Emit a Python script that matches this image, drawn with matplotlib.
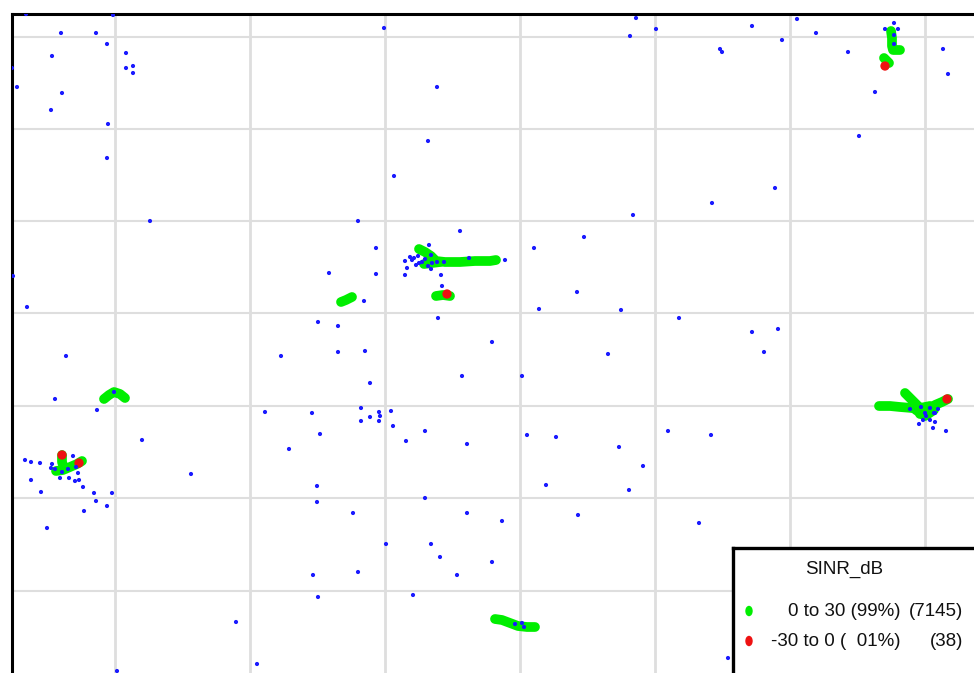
import matplotlib
matplotlib.use('agg')
import matplotlib.pyplot as plt
from matplotlib.patches import Ellipse

# map coordinates (screen-like units, y grows downward)
GRID_X = [115, 250, 385, 520, 655, 790, 925]
GRID_Y = [37, 129, 221, 313, 406, 498, 591]

# serving sites (blue dots)
site_x = [26, 113, 61, 96, 107, 52, 126, 12, 126, 133, 133, 17, 62, 51, 108, 107, 150, 13, 27,
          384, 437, 428, 394, 358, 460, 376, 329, 376, 405, 441, 442, 364, 469, 429,
          405, 410, 412, 414, 418, 416, 419, 422, 425, 431, 428, 432, 437, 444, 431, 407,
          318, 338, 438,
          636, 656, 630, 752, 797, 816, 782, 720, 722, 848, 894, 885, 898, 894, 894, 943, 948,
          875, 859, 775, 712, 633, 584, 534, 505, 577, 539, 621, 679, 752, 778,
          66, 55, 97, 142, 25, 31, 40, 52, 73, 51, 55, 62, 68, 76, 78, 60, 69, 75, 79, 31,
          83, 41, 94, 112, 96, 107, 84, 47, 191, 114,
          281, 338, 365, 370, 462, 265, 312, 361, 370, 379, 380, 391, 361, 379, 393, 425,
          406, 467, 320, 289, 317, 317, 353, 425, 467, 386, 431, 440, 313, 358, 457, 318,
          413, 236, 257, 117,
          492, 608, 764, 522, 527, 556, 619, 643, 546, 629, 668, 711, 502, 578, 699, 492, 728,
          910, 921, 930, 938, 925, 934, 926, 935, 923, 930, 935, 919, 933, 946,
          515, 522, 524]
site_y = [14, 15, 33, 33, 44, 56, 53, 68, 68, 66, 73, 87, 93, 110, 124, 158, 221, 276, 307,
          28, 87, 141, 176, 221, 231, 248, 273, 274, 275, 275, 286, 301, 258, 245,
          261, 257, 260, 258, 256, 265, 263, 262, 259, 255, 266, 263, 262, 262, 269, 268,
          322, 326, 318,
          18, 29, 36, 26, 19, 33, 40, 49, 52, 52, 23, 29, 29, 35, 44, 49, 74,
          92, 136, 188, 203, 215, 237, 248, 260, 292, 309, 310, 318, 332, 329,
          356, 399, 410, 440, 460, 462, 463, 464, 456, 468, 469, 472, 469, 467, 473, 478, 478, 481, 480, 480,
          487, 492, 493, 493, 501, 506, 511, 528, 474, 392,
          356, 352, 351, 383, 376, 412, 413, 408, 417, 412, 416, 411, 421, 421, 426, 431,
          441, 444, 434, 449, 486, 502, 513, 498, 513, 544, 544, 557, 575, 572, 575, 597,
          595, 622, 664, 671,
          342, 354, 352, 376, 435, 437, 447, 466, 485, 490, 431, 435, 521, 515, 523, 562, 658,
          409, 407, 408, 409, 413, 413, 416, 413, 420, 420, 422, 424, 428, 431,
          624, 623, 627]

# drive test routes, SINR 0 to 30 dB (green)
route_center_x = [419, 425, 431, 436, 445, 460, 475, 490, 496]
route_center_y = [249, 252, 256, 261, 262, 262, 261, 261, 260]
route_branch_x = [424, 432, 440]
route_branch_y = [264, 263, 262]
route_west_x = [341, 346, 352]
route_west_y = [302, 300, 297]
route_south_x = [436, 443, 450]
route_south_y = [296, 295, 296]
route_arc_x = [104, 109, 114, 120, 125]
route_arc_y = [399, 395, 392, 394, 398]
route_sw1_x = [62, 62, 64]
route_sw1_y = [455, 462, 468]
route_sw2_x = [56, 63, 70, 77, 82]
route_sw2_y = [471, 470, 467, 464, 461]
route_bottom_x = [495, 502, 510, 518, 527, 535]
route_bottom_y = [619, 620, 623, 626, 627, 627]
route_e1_x = [879, 890, 900, 912, 920]
route_e1_y = [406, 406, 407, 408, 410]
route_e2_x = [905, 912, 918, 924]
route_e2_y = [393, 400, 406, 412]
route_e3_x = [920, 928, 935, 942, 948]
route_e3_y = [414, 410, 405, 402, 399]
route_e4_x = [916, 925, 934, 930, 920]
route_e4_y = [410, 416, 410, 406, 408]
route_ne1_x = [891, 892, 892, 893, 900]
route_ne1_y = [31, 38, 46, 50, 50]
route_ne2_x = [884, 887, 889]
route_ne2_y = [58, 61, 63]

# SINR -30 to 0 dB samples (red)
bad_x = [447, 62, 79, 947, 885]
bad_y = [294, 455, 463, 399, 66]

legend_labels = ["0 to 30 (99%)", "-30 to 0 (  01%)"]
legend_counts = ["(7145)", "(38)"]
legend_colors = ["#00ee00", "#ee1111"]

W, H = 974, 673
fig = plt.figure(figsize=(W / 100, H / 100), dpi=100)
ax = fig.add_axes([12 / W, 0, (W - 12) / W, (H - 14) / H])
ax.set_xlim(12, W)
ax.set_ylim(H, 14)
ax.set_xticks([])
ax.set_yticks([])
for x in GRID_X:
    ax.axvline(x, color='#dedede', lw=2.0, zorder=0)
for y in GRID_Y:
    ax.axhline(y, color='#dedede', lw=1.5, zorder=0)
ax.spines['right'].set_visible(False)
ax.spines['bottom'].set_visible(False)
ax.spines['left'].set_linewidth(2.2)
ax.spines['top'].set_linewidth(2.2)

routes = [
    (route_center_x, route_center_y), (route_branch_x, route_branch_y),
    (route_west_x, route_west_y), (route_south_x, route_south_y),
    (route_arc_x, route_arc_y), (route_sw1_x, route_sw1_y), (route_sw2_x, route_sw2_y),
    (route_bottom_x, route_bottom_y), (route_e1_x, route_e1_y), (route_e2_x, route_e2_y),
    (route_e3_x, route_e3_y), (route_e4_x, route_e4_y),
    (route_ne1_x, route_ne1_y), (route_ne2_x, route_ne2_y),
]
for rx, ry in routes:
    ax.plot(rx, ry, color=legend_colors[0], lw=7.0, solid_capstyle='round',
            solid_joinstyle='round', zorder=2)
ax.scatter(bad_x, bad_y, s=45, color=legend_colors[1], edgecolors='none', zorder=3)
ax.scatter(site_x, site_y, s=9, color='#1a1aff', edgecolors='none', zorder=4)

# legend box
lx0, ly0 = 733, 548
lax = fig.add_axes([lx0 / W, -10 / H, (W + 10 - lx0) / W, (H + 10 - ly0) / H])
lax.set_xlim(lx0, W + 10)
lax.set_ylim(H + 10, ly0)
lax.set_xticks([])
lax.set_yticks([])
for s in lax.spines.values():
    s.set_linewidth(2.4)
    s.set_color('black')
font = dict(family=['Liberation Sans', 'DejaVu Sans'], fontsize=13.5, color='#111111')
lax.text(844, 569, "SINR_dB", ha='center', va='center', **font)
for i, (lab, cnt, col) in enumerate(zip(legend_labels, legend_counts, legend_colors)):
    yy = 611 + i * 30
    lax.add_patch(Ellipse((749, yy), 6, 9, color=col))
    lax.text(900, yy + 1, lab, ha='right', va='center', **font)
    lax.text(963, yy + 1, cnt, ha='right', va='center', **font)

fig.savefig("out.png", dpi=100)
